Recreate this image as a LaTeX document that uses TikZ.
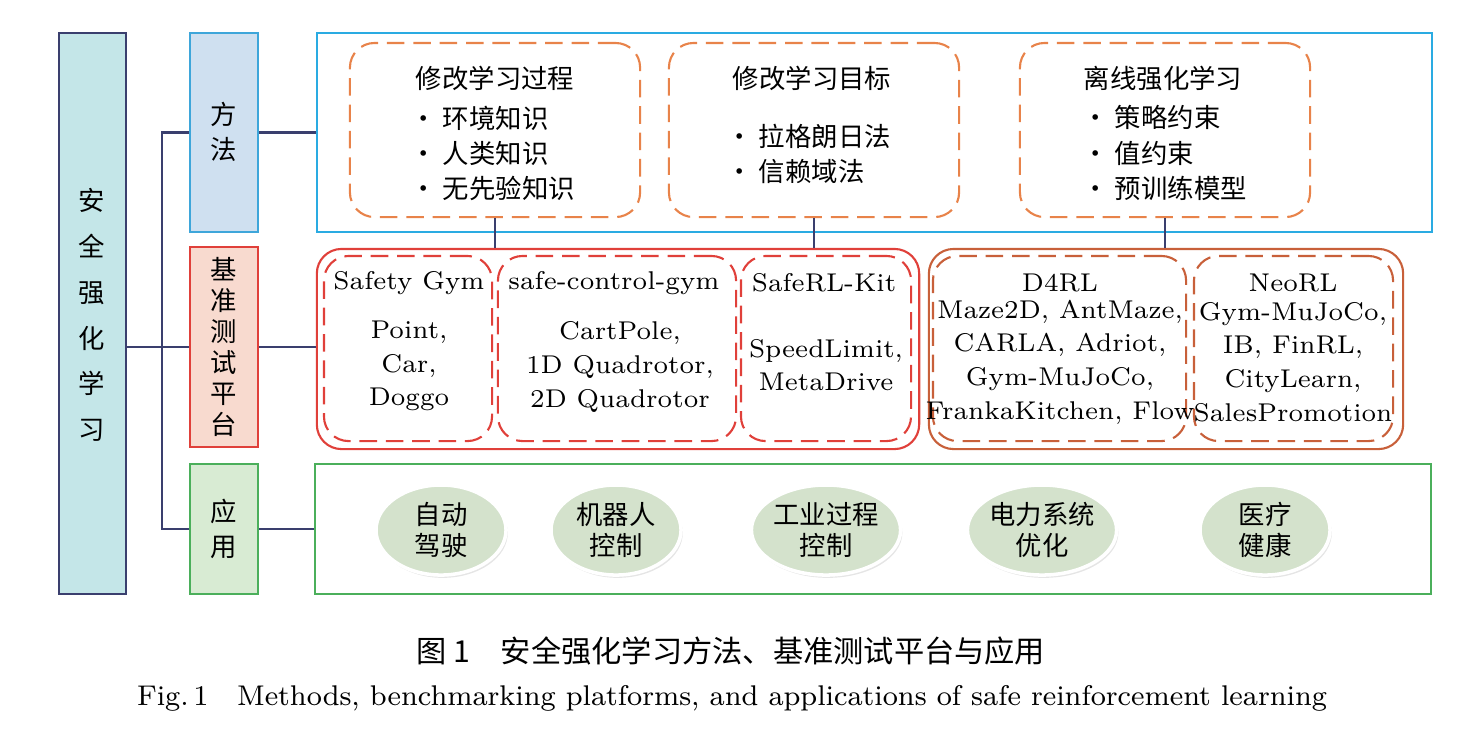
\documentclass[tikz,border=0pt]{standalone}
\usepackage{fontspec}
\newfontfamily\cjk{Noto Sans CJK SC}
\usetikzlibrary{shadows,shapes.geometric}
\definecolor{navy}{HTML}{3A3F6E}
\definecolor{cyanfill}{HTML}{C4E6E8}
\definecolor{blueline}{HTML}{3EA6DA}
\definecolor{bluefill}{HTML}{CFE0F0}
\definecolor{redline}{HTML}{E0403A}
\definecolor{redfill}{HTML}{F8DACF}
\definecolor{greenline}{HTML}{4BAF5B}
\definecolor{greenfill}{HTML}{D8EBD3}
\definecolor{orangeline}{HTML}{E8834A}
\definecolor{brownline}{HTML}{C8603A}
\definecolor{cyanline}{HTML}{2AABE2}
\definecolor{ellfill}{HTML}{D4E2CC}
\tikzset{
  txt/.style={font=\fontsize{7.5}{10}\selectfont\cjk, align=center, inner sep=0},
  lat/.style={font=\fontsize{7.3}{9.6}\selectfont, align=center, inner sep=0},
  box/.style={draw, inner sep=0, line width=0.6pt},
  dbox/.style={draw=orangeline, dashed, dash pattern=on 5pt off 2.5pt, rounded corners=7pt, inner sep=0, line width=0.6pt},
  conn/.style={draw=navy, line width=0.6pt},
  app/.style={ellipse, fill=ellfill, draw=white, line width=1pt, minimum width=1.3cm, minimum height=0.9cm,
    drop shadow={shadow xshift=0.5pt, shadow yshift=-0.8pt, fill=gray!40}, font=\fontsize{7.5}{9}\selectfont\cjk, align=center, inner sep=0}
}
\begin{document}
\begin{tikzpicture}[x=0.01cm, y=-0.01cm]
\useasboundingbox (0,0) rectangle (1480,735);

% left column
\node[box, draw=navy, fill=cyanfill, minimum width=0.67cm, minimum height=5.61cm] (ssrl) at (92.5,313.5) {};
\node[txt, font=\fontsize{7.5}{13}\selectfont\cjk] at (92,315) {安\\全\\强\\化\\学\\习};
\node[box, draw=blueline, fill=bluefill, minimum width=0.68cm, minimum height=1.99cm] (method) at (224,132.5) {};
\node[txt] at (224,132) {方\\法};
\node[box, draw=redline, fill=redfill, minimum width=0.68cm, minimum height=2.0cm] (bench) at (224,347) {};
\node[txt, font=\fontsize{7.5}{8.8}\selectfont\cjk] at (224,347) {基\\准\\测\\试\\平\\台};
\node[box, draw=greenline, fill=greenfill, minimum width=0.68cm, minimum height=1.30cm] (appl) at (224,529) {};
\node[txt] at (224,529) {应\\用};

% containers
\node[box, draw=cyanline, minimum width=11.15cm, minimum height=1.99cm] (methods) at (874.5,132.5) {};
\node[box, draw=redline, rounded corners=7pt, minimum width=6.02cm, minimum height=2.0cm] (online) at (618,349) {};
\node[box, draw=brownline, rounded corners=7pt, minimum width=4.74cm, minimum height=2.0cm] (offline) at (1166,349) {};
\node[box, draw=greenline, minimum width=11.16cm, minimum height=1.30cm] (apps) at (873,529) {};

% connectors
\coordinate (jn) at (162,347);
\draw[conn] (ssrl.east |- jn) -- (jn);
\draw[conn] (method.west) -| (jn) |- (appl.west);
\draw[conn] (jn) -- (bench.west);
\draw[conn] (method.east) -- (methods.west |- method.east);
\draw[conn] (bench.east) -- (online.west |- bench.east);
\draw[conn] (appl.east) -- (apps.west |- appl.east);

% methods
\node[dbox, minimum width=2.90cm, minimum height=1.74cm] (m1) at (495,130) {};
\node[dbox, minimum width=2.90cm, minimum height=1.74cm] (m2) at (814,130) {};
\node[dbox, minimum width=2.90cm, minimum height=1.74cm] (m3) at (1165,130) {};
\node[txt] at (495,78) {修改学习过程};
\node[txt, align=left, anchor=north west] at (410,105) {· 环境知识\\· 人类知识\\· 无先验知识};
\node[txt] at (812,78) {修改学习目标};
\node[txt, align=left, anchor=north west] at (726,123) {· 拉格朗日法\\· 信赖域法};
\node[txt] at (1163,78) {离线强化学习};
\node[txt, align=left, anchor=north west] at (1082,105) {· 策略约束\\· 值约束\\· 预训练模型};

% benchmarks
\node[dbox, draw=redline, minimum width=1.68cm, minimum height=1.85cm] (b1) at (408,348.5) {};
\node[dbox, draw=redline, minimum width=2.38cm, minimum height=1.85cm] (b2) at (617,348.5) {};
\node[dbox, draw=redline, minimum width=1.70cm, minimum height=1.85cm] (b3) at (826,348.5) {};
\node[dbox, draw=brownline, minimum width=2.53cm, minimum height=1.85cm] (b4) at (1059.5,348.5) {};
\node[dbox, draw=brownline, minimum width=1.99cm, minimum height=1.85cm] (b5) at (1293.5,348.5) {};
\draw[conn] (m1.south) -- (m1.south |- online.north);
\draw[conn] (m2.south) -- (m2.south |- online.north);
\draw[conn] (m3.south) -- (m3.south |- offline.north);

\node[lat] at (409,283) {Safety Gym};
\node[lat] at (409,366) {Point,\\Car,\\Doggo};
\node[lat] at (614,283) {safe-control-gym};
\node[lat] at (620,367) {CartPole,\\1D Quadrotor,\\2D Quadrotor};
\node[lat] at (824,283) {SafeRL-Kit};
\node[lat] at (826,365) {SpeedLimit,\\MetaDrive};
\node[lat] at (1060,283) {D4RL};
\node[lat] at (1060,362) {Maze2D, AntMaze,\\CARLA, Adriot,\\Gym-MuJoCo,\\FrankaKitchen, Flow};
\node[lat] at (1293,283) {NeoRL};
\node[lat] at (1293,362) {Gym-MuJoCo,\\IB, FinRL,\\CityLearn,\\SalesPromotion};

% applications
\node[app] (a1) at (441,530) {自动\\驾驶};
\node[app] (a2) at (616,530) {机器人\\控制};
\node[app] (a3) at (826,530) {工业过程\\控制};
\node[app] (a4) at (1042,530) {电力系统\\优化};
\node[app] (a5) at (1265,530) {医疗\\健康};

% captions
\node[txt, font=\fontsize{8.6}{10}\selectfont\cjk] (cap1) at (731,651) {图 1\quad 安全强化学习方法、基准测试平台与应用};
\node[lat, font=\fontsize{8.1}{10}\selectfont] (cap2) at (732,698) {Fig.\,1\quad Methods, benchmarking platforms, and applications of safe reinforcement learning};
\end{tikzpicture}
\end{document}
